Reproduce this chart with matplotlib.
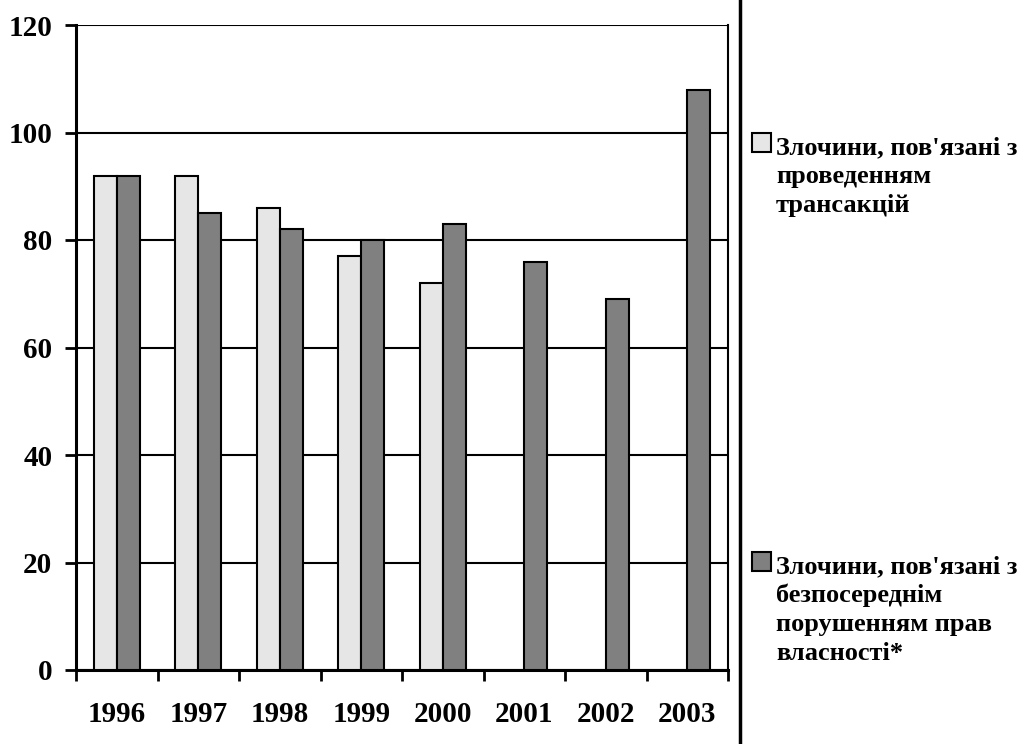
import numpy as np
import matplotlib
matplotlib.use("Agg")
from matplotlib import pyplot as plt
from matplotlib.patches import Rectangle
from matplotlib.lines import Line2D

plt.rcParams['font.family'] = ['Liberation Serif', 'DejaVu Serif']
plt.rcParams['font.weight'] = 'bold'

years = ['1996', '1997', '1998', '1999', '2000', '2001', '2002', '2003']
transactions = [92, 92, 86, 77, 72, np.nan, np.nan, np.nan]
property_rights = [92, 85, 82, 80, 83, 76, 69, 108]
label_a = ["Злочини, пов'язані з", "проведенням", "трансакцій"]
label_b = ["Злочини, пов'язані з", "безпосереднім", "порушенням прав", "власності*"]

light = '#e6e6e6'
dark = '#808080'

fig = plt.figure(figsize=(10.24, 7.44), dpi=100)
ax = fig.add_axes([76 / 1024, 74 / 744, 652 / 1024, 645 / 744])

x = np.arange(len(years))
w = 0.28
ax.bar(x - w / 2, transactions, w, color=light, edgecolor='black', linewidth=1.5, zorder=3)
ax.bar(x + w / 2, property_rights, w, color=dark, edgecolor='black', linewidth=1.5, zorder=3)

ax.set_xlim(-0.5, len(years) - 0.5)
ax.set_ylim(0, 120)
ax.set_yticks(range(0, 121, 20))
ax.yaxis.grid(True, color='black', linewidth=1.5, zorder=0)
ax.set_axisbelow(True)

# ticks at group boundaries, labels at centers
ax.set_xticks(np.arange(-0.5, len(years), 1.0))
ax.set_xticklabels([])
ax.set_xticks(x, minor=True)
ax.set_xticklabels(years, minor=True, fontsize=21, fontweight='bold')
ax.tick_params(axis='x', which='major', direction='out', length=8, width=2)
ax.tick_params(axis='x', which='minor', length=0, pad=22)
ax.tick_params(axis='y', direction='out', length=8, width=2, labelsize=21, pad=9)
for lab in ax.get_yticklabels():
    lab.set_fontweight('bold')

ax.spines['top'].set_visible(False)
ax.spines['left'].set_linewidth(2.2)
ax.spines['bottom'].set_linewidth(2.2)
ax.spines['right'].set_linewidth(1.5)

# separator line between plot and legend
fig.add_artist(Line2D([740 / 1024, 740 / 1024], [0, 1], color='black', linewidth=2.5,
                      transform=fig.transFigure))

# legend drawn by hand: one text per line, 29 px apart
for color, ytop, lines in [(light, 133, label_a), (dark, 552, label_b)]:
    fig.add_artist(Rectangle((752 / 1024, 1 - (ytop + 19) / 744), 19 / 1024, 19 / 744,
                             facecolor=color, edgecolor='black', linewidth=1.5,
                             transform=fig.transFigure))
    for i, line in enumerate(lines):
        fig.text(776 / 1024, 1 - (ytop + 21 + 29 * i) / 744, line, fontsize=19,
                 fontweight='bold', va='baseline', ha='left')

plt.savefig('out.png', dpi=100)
